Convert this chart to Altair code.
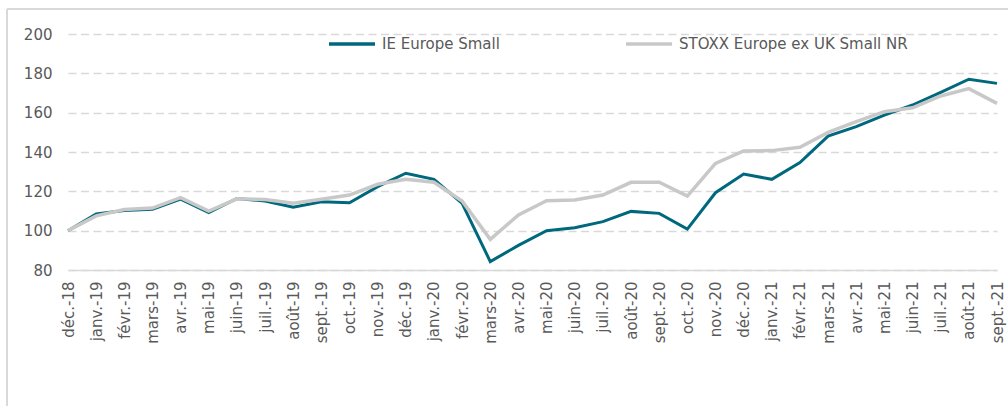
import altair as alt
import pandas as pd

months = ["déc.-18", "janv.-19", "févr.-19", "mars-19", "avr.-19", "mai-19", "juin-19",
          "juil.-19", "août-19", "sept.-19", "oct.-19", "nov.-19", "déc.-19", "janv.-20",
          "févr.-20", "mars-20", "avr.-20", "mai-20", "juin-20", "juil.-20", "août-20",
          "sept.-20", "oct.-20", "nov.-20", "déc.-20", "janv.-21", "févr.-21", "mars-21",
          "avr.-21", "mai-21", "juin-21", "juil.-21", "août-21", "sept.-21"]

ie_europe_small = [100, 108.5, 110.2, 110.9, 116, 109.2, 116.4, 115.1, 111.9, 114.7, 114.2,
                   122.4, 129.2, 126.1, 113.9, 84.3, 92.5, 100, 101.5, 104.6, 109.8, 108.8,
                   100.8, 119.3, 128.8, 126.1, 134.6, 148.1, 152.9, 158.8, 163.9, 170.3,
                   177, 174.9]

stoxx_small = [100, 107.5, 110.8, 111.5, 116.8, 110, 116.2, 115.8, 113.9, 116, 118.1,
               123.6, 126.1, 124.6, 115.1, 95.6, 108, 115.2, 115.6, 118.1, 124.6, 124.6,
               117.6, 134.2, 140.5, 140.7, 142.4, 150, 155.4, 160.5, 162.5, 168.5,
               172.2, 164.7]

series_names = ["IE Europe Small", "STOXX Europe ex UK Small NR"]
series_colors = ["#00687D", "#C8C8C8"]
y_ticks = [80, 100, 120, 140, 160, 180, 200]

df = pd.DataFrame(
    [{"mois": m, "serie": series_names[0], "valeur": v, "ordre": i}
     for i, (m, v) in enumerate(zip(months, ie_europe_small))]
    + [{"mois": m, "serie": series_names[1], "valeur": v, "ordre": i}
       for i, (m, v) in enumerate(zip(months, stoxx_small))]
)

FONT = "DejaVu Sans"
TXT = "#595959"

x_enc = alt.X(
    "mois:N",
    sort=months,
    scale=alt.Scale(type="point", padding=0),
    axis=alt.Axis(
        title=None, labelAngle=-90, ticks=False, labelPadding=11,
        domainColor="#D9D9D9", domainWidth=1.5, grid=False,
        labelOverlap=False, labelFlush=False, labelFont=FONT,
        labelFontSize=15, labelColor=TXT,
    ),
)
y_enc = alt.Y(
    "valeur:Q",
    scale=alt.Scale(domain=[80, 200], nice=False, zero=False),
    axis=alt.Axis(
        title=None, values=y_ticks, domain=False, ticks=False, labelPadding=16,
        gridColor="#D9D9D9", gridDash=[8, 4.5], gridWidth=1.3,
        labelFont=FONT, labelFontSize=15, labelColor=TXT,
    ),
)
color_enc = alt.Color(
    "serie:N",
    scale=alt.Scale(domain=series_names, range=series_colors),
    legend=alt.Legend(
        title=None, orient="none", legendX=259, legendY=-15, direction="horizontal",
        symbolType="stroke", symbolSize=2116, symbolStrokeWidth=3.5,
        labelFont=FONT, labelFontSize=15, labelColor=TXT, labelOffset=5,
        labelLimit=500, columnPadding=119,
    ),
)

base = alt.Chart(df).encode(x=x_enc, y=y_enc, color=color_enc, order="ordre:Q")

line_ie = base.transform_filter(alt.datum.serie == series_names[0]).mark_line(strokeWidth=3)
line_stoxx = base.transform_filter(alt.datum.serie == series_names[1]).mark_line(strokeWidth=3.5)

frame_left = alt.Chart(df).mark_rule(color="#D9D9D9", strokeWidth=1.5).encode(
    x=alt.value(-61), y=alt.value(-25), y2=alt.value(400))
frame_top = alt.Chart(df).mark_rule(color="#D9D9D9", strokeWidth=1.5).encode(
    x=alt.value(-61), x2=alt.value(960), y=alt.value(-25))

chart = alt.layer(frame_left, frame_top, line_ie, line_stoxx).properties(
    width=929, height=236,
    autosize=alt.AutoSizeParams(type="none"),
    padding={"left": 68, "top": 34, "right": 11, "bottom": 136},
    background="white",
).configure_view(stroke=None)

chart.save("out.html", embed_options={"renderer": "svg", "actions": False})
